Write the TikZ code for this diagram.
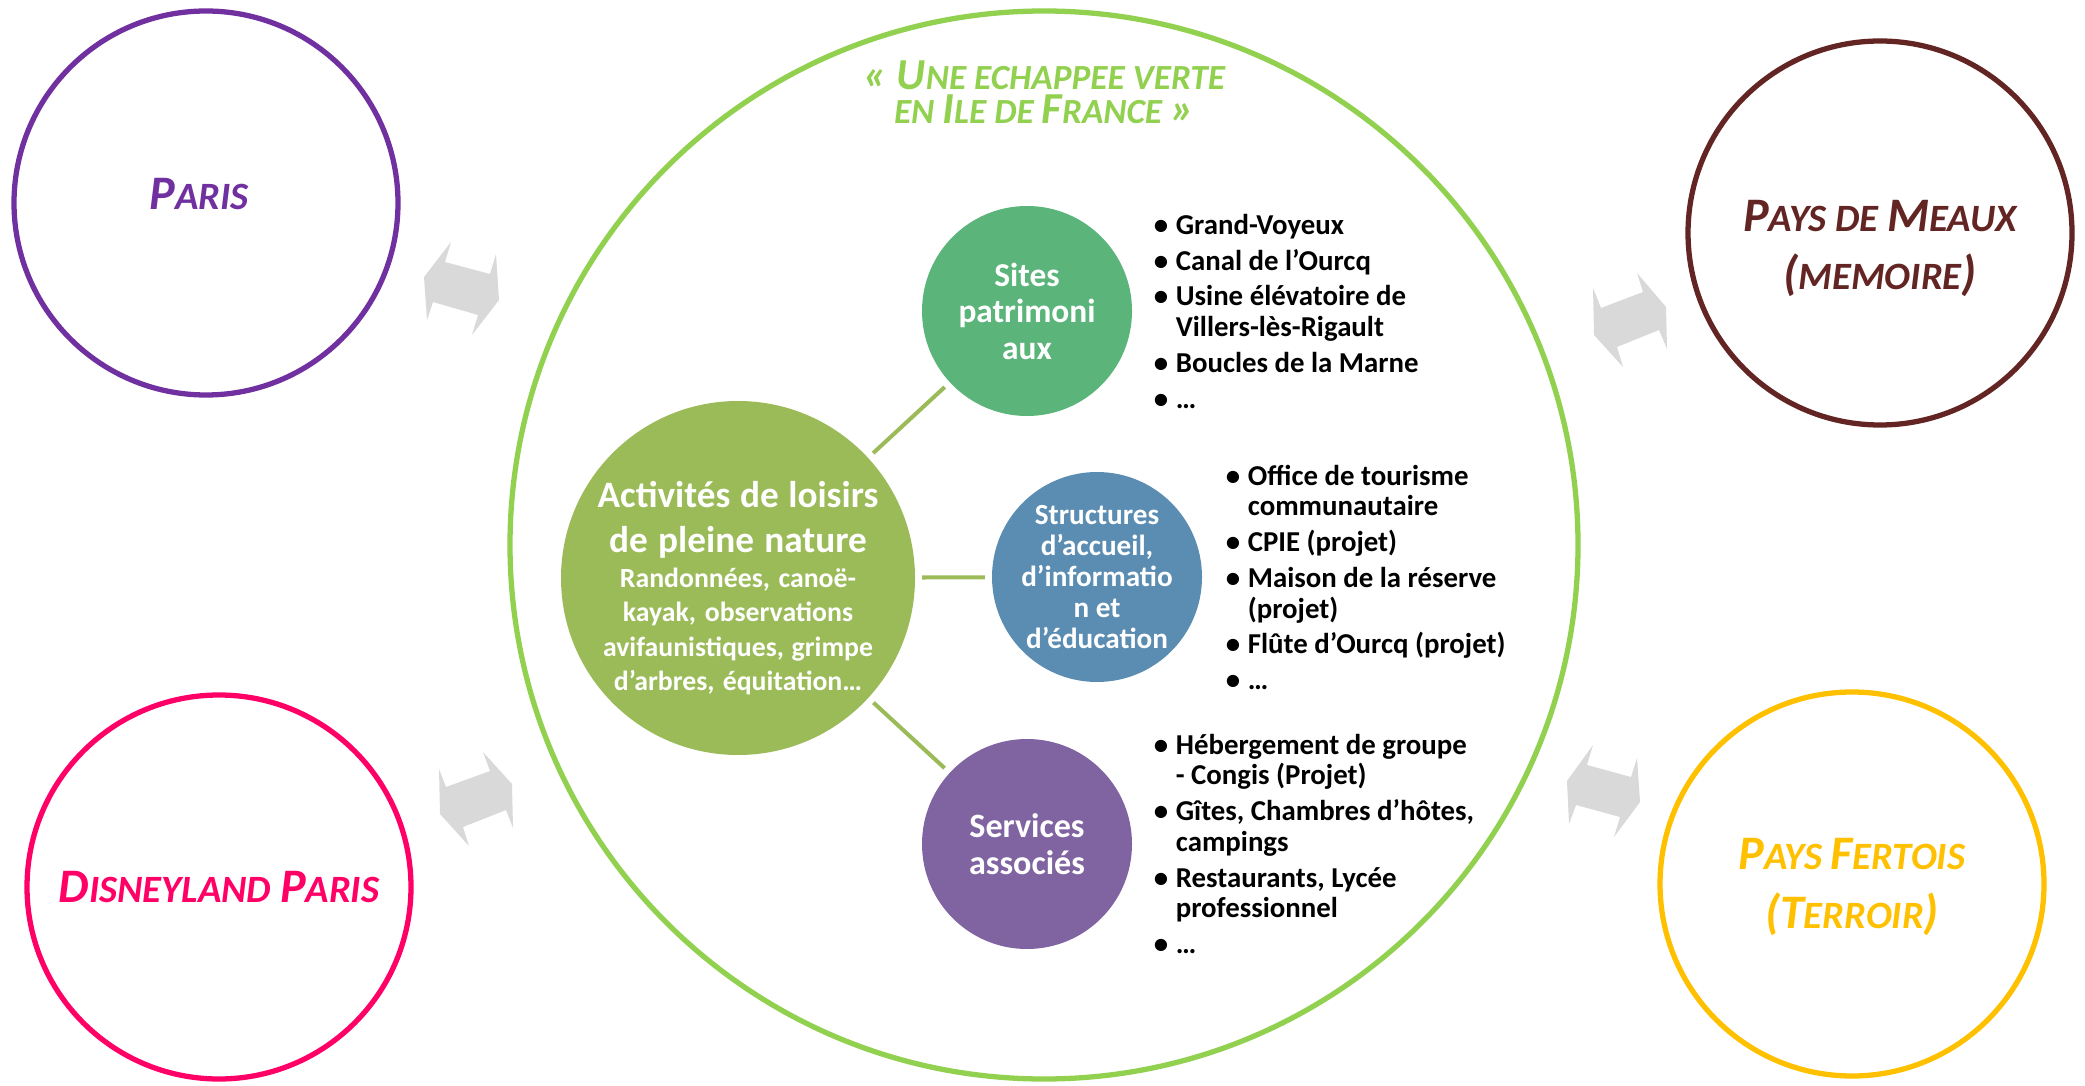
\documentclass[tikz,border=0pt]{standalone}
\usepackage{fontspec}
\setmainfont{Carlito}
\usepackage{tikz}

\definecolor{verte}{HTML}{92D050}
\definecolor{olive}{HTML}{9BBB59}
\definecolor{sites}{HTML}{5BB57B}
\definecolor{accueil}{HTML}{5B8DB2}
\definecolor{services}{HTML}{8064A2}
\definecolor{paris}{HTML}{7030A0}
\definecolor{disney}{HTML}{FF0066}
\definecolor{meaux}{HTML}{632523}
\definecolor{fertois}{HTML}{FFC000}

% capitales "petites" faites a la main
\newcommand\initiale[2]{{\fontsize{#1}{#1}\selectfont #2}}

\newenvironment{puces}{\begin{list}{\textbullet}{\setlength\leftmargin{6.3pt}\setlength\labelwidth{4.1pt}\setlength\labelsep{2.2pt}\setlength\itemsep{1.5pt}\setlength\parsep{0pt}\setlength\topsep{0pt}\setlength\partopsep{0pt}}\spaceskip=0pt\xspaceskip=0pt}{\end{list}}

\tikzset{
	espaces/.style={execute at begin node={\spaceskip=0pt\xspaceskip=0pt}},
	zone/.style={circle, draw, fill=white, line width=1.5pt, minimum size=3.84cm, inner sep=0pt, align=center, espaces, font=\bfseries\itshape\fontsize{11}{16.8}\selectfont},
	pole/.style={circle, inner sep=-5mm, outer sep=2pt, text=white, align=center, espaces},
	titre/.style={text=verte, anchor=base, inner sep=0pt, espaces, font=\bfseries\itshape\fontsize{10.05}{10}\selectfont},
	link/.style={draw=olive, line width=1.15pt},
	flow/.style={fill=black!15},
	liste/.style={anchor=north west, inner sep=0pt, text width=4cm, align=left, font=\bfseries\fontsize{8.2}{8.7}\selectfont}
}

\begin{document}
\begin{tikzpicture}
			%%%%% START %%%%%
			\useasboundingbox (0, 0) rectangle (20.85, 10.85);
			
			\node[circle, draw=verte, line width=1.5pt, minimum size=10.68cm] (ring) at (10.44, 5.40) {};
			\node[titre] (titre1) at (10.44, 9.95) {\initiale{12.6}{« U}NE ECHAPPEE VERTE};
			\node[titre] (titre2) at (10.44, 9.61) {EN \initiale{12.6}{I}LE DE \initiale{12.6}{F}RANCE \initiale{12.6}{»}};
			
			% les quatre territoires
			\node[zone, draw=paris, text=paris] (paris) at (2.06, 8.82) {\raisebox{5pt}{\initiale{13.7}{P}ARIS}\hspace*{4pt}};
			\node[zone, draw=disney, text=disney] (disney) at (2.19, 1.98) {\initiale{13.7}{D}ISNEYLAND \initiale{13.7}{P}ARIS};
			\node[zone, draw=meaux, text=meaux] (meaux) at (18.80, 8.52)
				{\raisebox{-17.6pt}{\initiale{13.7}{P}AYS DE \initiale{13.7}{M}EAUX}\\[-2.3pt]\raisebox{-17.6pt}{\initiale{13.7}{(}MEMOIRE\initiale{13.7}{)}}};
			\node[zone, draw=fertois, text=fertois] (fertois) at (18.52, 2.01)
				{\raisebox{-10.6pt}{\initiale{13.7}{P}AYS \initiale{13.7}{F}ERTOIS}\\\raisebox{-10.6pt}{\initiale{13.7}{(T}ERROIR\initiale{13.7}{)}}};
			
			% doubles fleches grises
			\fill[flow] (4.51,8.43) -- (4.45,8.23) -- (4.90,8.11) -- (4.96,8.31) -- (4.99,7.85) -- (4.72,7.50) -- (4.78,7.70) -- (4.33,7.83) -- (4.27,7.65) -- (4.24,8.08) -- cycle;
			\fill[flow] (4.39,3.16) -- (4.46,2.98) -- (4.90,3.14) -- (4.83,3.33) -- (5.12,3.01) -- (5.13,2.57) -- (5.06,2.75) -- (4.63,2.58) -- (4.69,2.39) -- (4.40,2.71) -- cycle;
			\fill[flow] (15.93,7.97) -- (16.01,7.77) -- (16.43,7.93) -- (16.37,8.12) -- (16.66,7.78) -- (16.67,7.36) -- (16.59,7.55) -- (16.17,7.38) -- (16.23,7.18) -- (15.94,7.50) -- cycle;
			\fill[flow] (15.93,3.40) -- (15.87,3.20) -- (16.31,3.08) -- (16.37,3.27) -- (16.40,2.83) -- (16.14,2.48) -- (16.20,2.68) -- (15.76,2.80) -- (15.69,2.61) -- (15.67,3.04) -- cycle;
			
			% les cercles du milieu
			\node[pole, fill=olive, minimum size=3.54cm] (act) at (7.38, 5.07) {};
			\node[text=white, text width=3.2cm, align=center, inner sep=0pt, espaces] (acttexte) at (7.38, 4.97)
				{{\fontsize{10.6}{12.9}\selectfont\bfseries Activités de loisirs\\de pleine nature\par}
				{\fontsize{7.9}{9.8}\selectfont\bfseries Randonnées, canoë-\\kayak, observations\\avifaunistiques, grimpe\\d’arbres, équitation…\par}};
			\node[pole, fill=sites, minimum size=2.10cm, font=\bfseries\fontsize{9.5}{10.4}\selectfont] (sites) at (10.27, 7.74)
				{Sites\\patrimoni\\aux};
			\node[pole, fill=accueil, minimum size=2.10cm, font=\bfseries\fontsize{8.3}{8.8}\selectfont] (accueil) at (10.97, 5.08)
				{Structures\\d’accueil,\\d’informatio\\n et\\d’éducation};
			\node[pole, fill=services, minimum size=2.10cm, font=\bfseries\fontsize{9.7}{10.5}\selectfont] (services) at (10.27, 2.41)
				{Services\\associés};
			
			\draw[link] (act) -- (sites);
			\draw[link] (act) -- (accueil);
			\draw[link] (act) -- (services);
			
			% les listes
			\node[liste] (liste1) at (11.53, 8.82) {\begin{puces}
				\item Grand-Voyeux
				\item Canal de l’Ourcq
				\item Usine élévatoire de\\Villers-lès-Rigault
				\item Boucles de la Marne
				\item …
			\end{puces}};
			\node[liste] (liste2) at (12.25, 6.31) {\begin{puces}
				\item Office de tourisme\\communautaire
				\item CPIE (projet)
				\item Maison de la réserve\\(projet)
				\item Flûte d’Ourcq (projet)
				\item …
			\end{puces}};
			\node[liste] (liste3) at (11.53, 3.62) {\begin{puces}
				\item Hébergement de groupe\\- Congis (Projet)
				\item Gîtes, Chambres d’hôtes,\\campings
				\item Restaurants, Lycée\\professionnel
				\item …
			\end{puces}};
			
			%%%%% END %%%%%
		\end{tikzpicture}
\end{document}
